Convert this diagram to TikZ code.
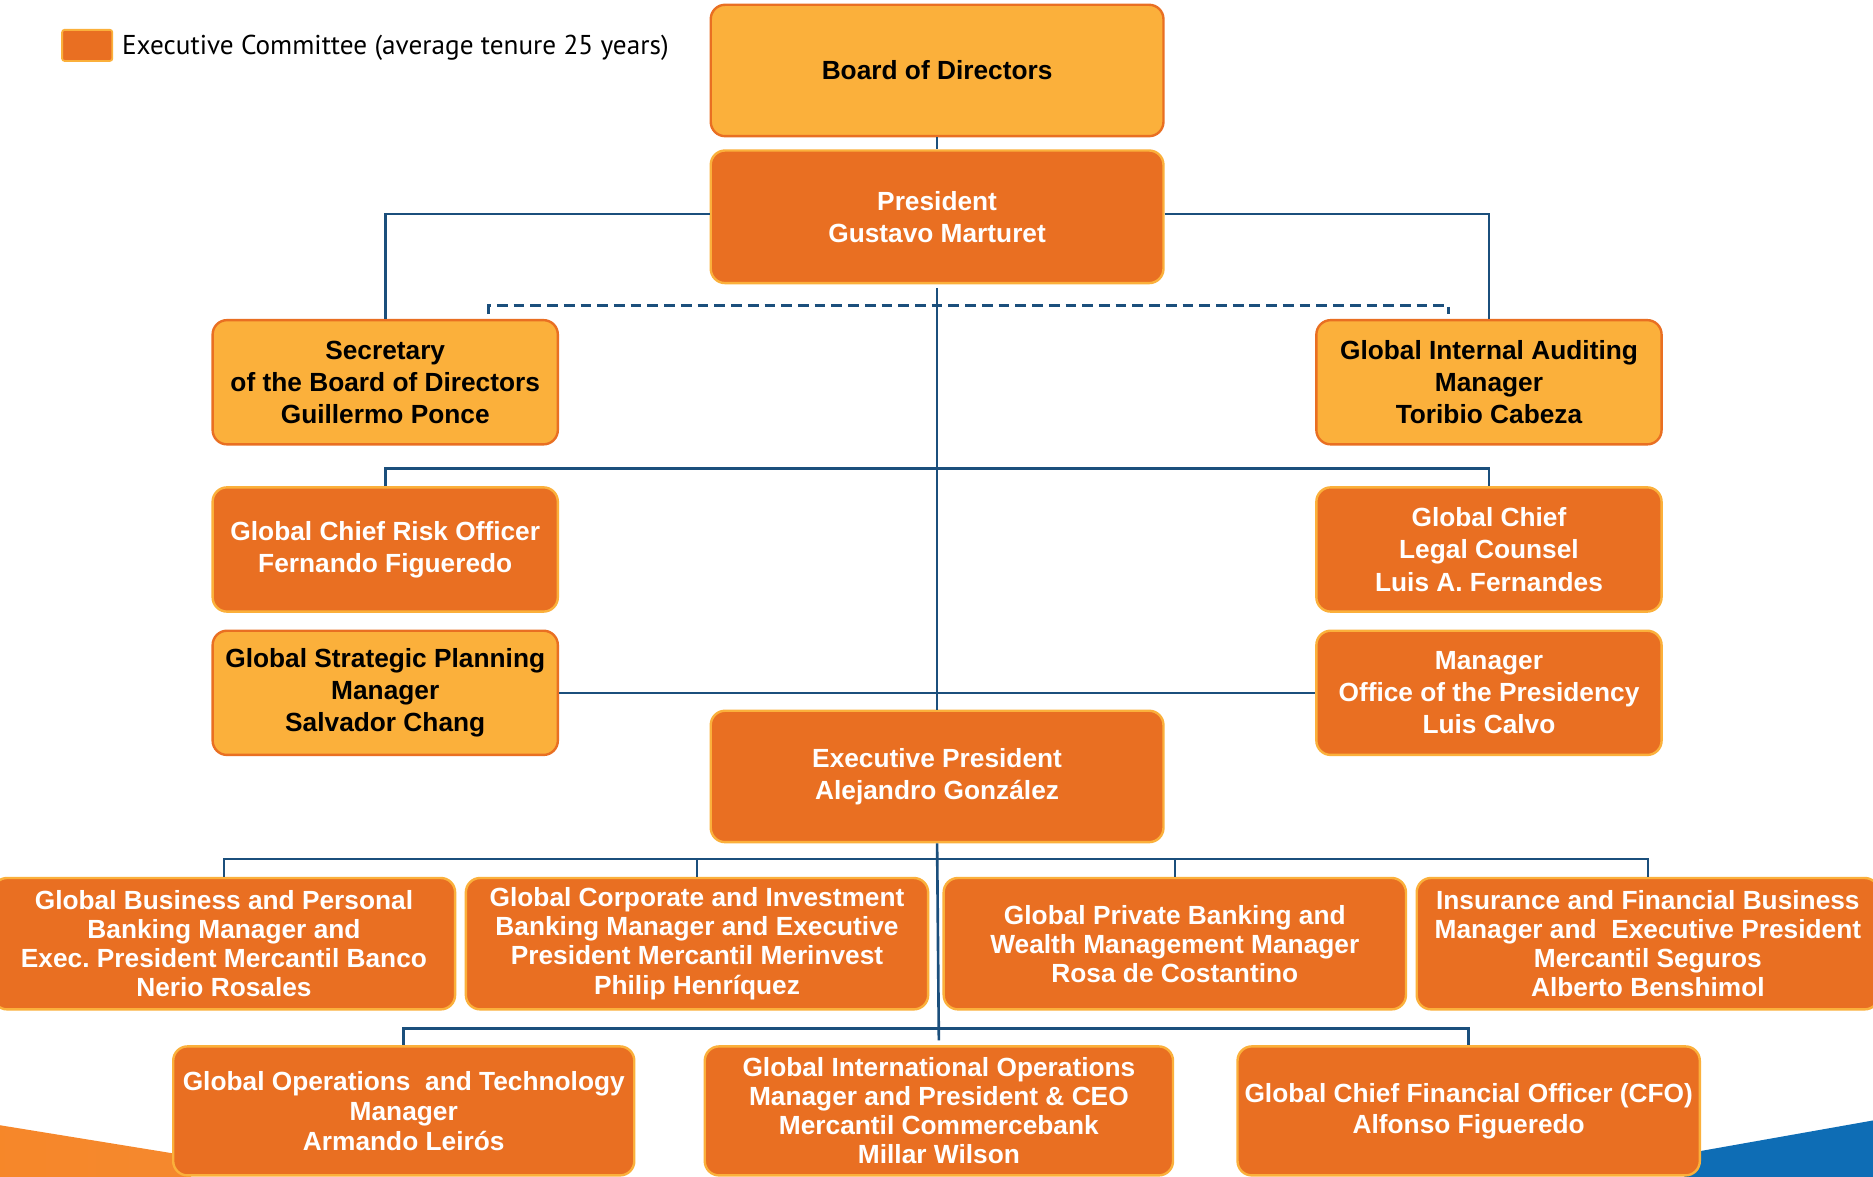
\documentclass[tikz,border=0pt]{standalone}
\usepackage{fontspec}
\setmainfont{Liberation Sans}
\newfontfamily\legendfont{PT Sans}
\usetikzlibrary{calc}
\definecolor{dorange}{HTML}{E96F22}
\definecolor{lorange}{HTML}{FBB03B}
\definecolor{lineblue}{HTML}{1B4F7C}
\definecolor{swooshorange}{HTML}{F5882E}
\definecolor{swooshblue}{HTML}{0E6DB5}
\begin{document}
\frenchspacing
\begin{tikzpicture}[x=1pt,y=-1pt,
 box/.style={rounded corners=12pt, line width=2pt, align=center, inner sep=0pt, font=\fontsize{22}{27}\selectfont\bfseries},
 execbox/.style={box, fill=dorange, draw=lorange, text=white},
 boardbox/.style={box, fill=lorange, draw=dorange, text=black},
 tight/.style={font=\fontsize{22}{24.3}\selectfont\bfseries},
 conn/.style={draw=lineblue, line width=2.2pt},
 dconn/.style={conn, line width=2.5pt, dash pattern=on 9pt off 5pt}]
\fill[white] (0,0) rectangle (1568,985);
\useasboundingbox (0,0) rectangle (1568,985);
% bottom decorations
\shade[left color=swooshorange!90!orange, right color=swooshorange] (0,942) -- (160,968) -- (160,990) -- (0,990) -- cycle;
\fill[swooshblue] (1410,966) -- (1568,938) -- (1568,990) -- (1410,990) -- cycle;
% legend
\node[fill=dorange, draw=lorange, line width=1.5pt, rounded corners=2pt, minimum width=42pt, minimum height=26pt] (leg) at (73,38) {};
\node[anchor=west, inner sep=0pt, font=\legendfont\fontsize{22.8}{26}\selectfont] (legt) at (102,40) {Executive Committee (average tenure 25 years)};
% boxes
\node[boardbox, minimum width=379pt, minimum height=110pt] (board) at (784.5,59) {Board of Directors};
\node[execbox, minimum width=379pt, minimum height=111pt] (pres) at (784.5,181.5) {President\\Gustavo Marturet};
\node[boardbox, minimum width=289pt, minimum height=104pt] (sec) at (322.5,320) {Secretary\\of the Board of Directors\\Guillermo Ponce};
\node[boardbox, minimum width=289pt, minimum height=104pt] (aud) at (1246.5,320) {Global Internal Auditing\\Manager\\Toribio Cabeza};
\node[execbox, minimum width=289pt, minimum height=104pt] (risk) at (322.5,460) {Global Chief Risk Officer\\Fernando Figueredo};
\node[execbox, minimum width=289pt, minimum height=104pt] (legal) at (1246.5,460) {Global Chief\\Legal Counsel\\Luis A. Fernandes};
\node[boardbox, minimum width=289pt, minimum height=104pt] (strat) at (322.5,580) {Global Strategic Planning\\Manager\\Salvador Chang};
\node[execbox, minimum width=289pt, minimum height=104pt] (office) at (1246.5,580) {Manager\\Office of the Presidency\\Luis Calvo};
\node[execbox, minimum width=379pt, minimum height=110pt] (ep) at (784.5,650) {Executive President\\Alejandro González};
\node[execbox, tight, minimum width=387pt, minimum height=110pt] (r1a) at (187.5,790) {Global Business and Personal\\Banking Manager and\\Exec. President Mercantil Banco\\Nerio Rosales};
\node[execbox, tight, minimum width=387pt, minimum height=110pt] (r1b) at (583.5,790) {Global Corporate and Investment\\Banking Manager and Executive\\President Mercantil Merinvest\\Philip Henríquez};
\node[execbox, tight, minimum width=387pt, minimum height=110pt] (r1c) at (983.5,790) {Global Private Banking and\\Wealth Management Manager\\Rosa de Costantino};
\node[execbox, tight, minimum width=387pt, minimum height=110pt] (r1d) at (1379.5,790) {Insurance and Financial Business\\Manager and \ Executive President\\Mercantil Seguros\\Alberto Benshimol};
\node[execbox, font=\fontsize{22}{25}\selectfont\bfseries, minimum width=386pt, minimum height=108pt] (r2a) at (338,930) {Global Operations \ and Technology\\Manager\\Armando Leirós};
\node[execbox, tight, minimum width=392pt, minimum height=108pt] (r2b) at (786,930) {Global International Operations\\Manager and President \& CEO\\Mercantil Commercebank\\Millar Wilson};
\node[execbox, font=\fontsize{22}{26}\selectfont\bfseries, minimum width=387pt, minimum height=108pt] (r2c) at (1229.5,930) {Global Chief Financial Officer (CFO)\\Alfonso Figueredo};
% connectors
\draw[conn] (board.south) -- (pres.north);
\draw[conn] ([yshift=2.5pt]pres.west) -| (sec.north);
\draw[conn] ([yshift=2.5pt]pres.east) -| (aud.north);
\draw[conn, shorten <=3pt] (pres.south) -- (ep.north);
\draw[dconn] ($(sec.north)+(86.5,-4)$) -- ++(0,-7) -| ($(aud.north)+(-33.5,-4)$);
\draw[conn] (risk.north) -- ++(0,-15) -| (legal.north);
\draw[conn] (strat.east) -- (office.west);
\draw[conn, shorten >=4pt] (ep.south) -- (r2b.north);
\draw[conn] (r1a.north) -- ++(0,-15) -| (r1d.north);
\draw[conn] (r1b.north) -- ++(0,-15);
\draw[conn] (r1c.north) -- ++(0,-15);
\draw[conn] (r2a.north) -- ++(0,-14) -| (r2c.north);
\end{tikzpicture}
\end{document}
